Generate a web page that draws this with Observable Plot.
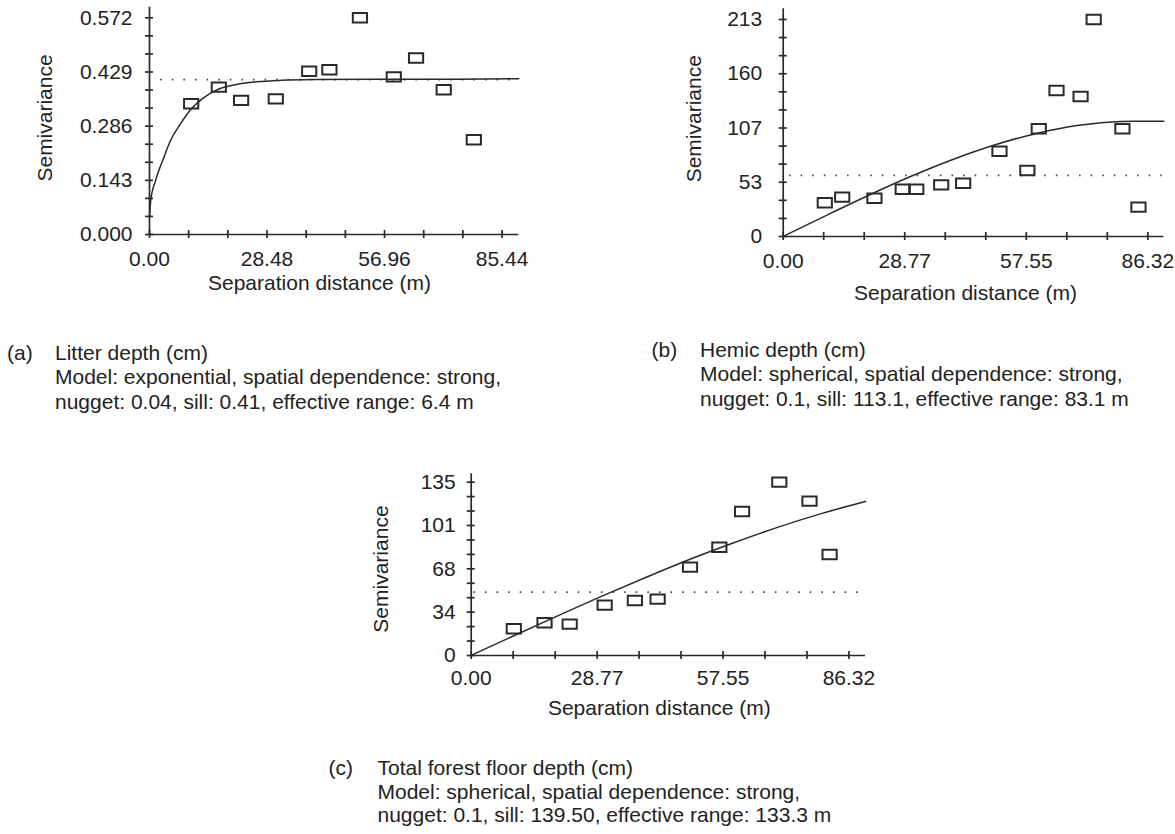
<!DOCTYPE html>
<html><head><meta charset="utf-8">
<script src="https://cdn.jsdelivr.net/npm/d3@7"></script>
<script src="https://cdn.jsdelivr.net/npm/@observablehq/plot@0.6"></script>
<style>
body{margin:0;background:#fff;}
#root{position:relative;width:1175px;height:834px;overflow:hidden;font-family:"Liberation Sans",Arial,sans-serif;color:#222;background:#fff;}
.panel{position:absolute;}
.cap{position:absolute;font-size:21px;line-height:24.5px;white-space:nowrap;color:#222;}
</style></head><body><div id="root"></div>
<script>
// ---------- Panel (a): Litter depth ----------
const aLag   = [10.1, 16.8, 22.2, 30.6, 38.7, 43.6, 51.0, 59.2, 64.6, 71.3, 78.6];
const aGamma = [0.345, 0.389, 0.354, 0.358, 0.431, 0.435, 0.572, 0.416, 0.466, 0.382, 0.250];
const aModelLag   = [0, 0.3, 1.5, 3.5, 5.1, 7.5, 10, 13, 16.8, 21, 26, 32, 40, 55, 70, 89.5];
const aModelGamma = [0.045, 0.09, 0.143, 0.204, 0.248, 0.292, 0.33, 0.36, 0.384, 0.396, 0.403, 0.407, 0.409, 0.41, 0.41, 0.411];
const aSill = 0.409;
const aXTicks = [0, 28.48, 56.96, 85.44];
const aXLabels = ["0.00", "28.48", "56.96", "85.44"];
const aYTicks = [0, 0.143, 0.286, 0.429, 0.572];
const aYLabels = ["0.000", "0.143", "0.286", "0.429", "0.572"];
const aCaption = ["(a)", "Litter depth (cm)", "Model: exponential, spatial dependence: strong,", "nugget: 0.04, sill: 0.41, effective range: 6.4 m"];

// ---------- Panel (b): Hemic depth ----------
const bLag   = [9.85, 13.97, 21.6, 28.3, 31.5, 37.4, 42.6, 51.2, 57.8, 60.5, 64.7, 70.4, 73.5, 80.3, 84.1];
const bGamma = [33.1, 38.6, 37.6, 46.4, 46.4, 50.7, 52.3, 83.7, 64.8, 105.7, 143.3, 137.4, 213, 105.7, 28.8];
const bModelLag   = [0, 10, 20, 30, 40, 50, 60, 70, 80, 83.1, 90.1];
const bModelGamma = [0.1, 20.3, 40.0, 58.6, 75.4, 89.8, 101.2, 109.1, 112.9, 113.1, 113.1];
const bSill = 59.9;
const bXTicks = [0, 28.77, 57.55, 86.32];
const bXLabels = ["0.00", "28.77", "57.55", "86.32"];
const bYTicks = [0, 53.25, 106.5, 159.75, 213];
const bYLabels = ["0", "53", "107", "160", "213"];
const bCaption = ["(b)", "Hemic depth (cm)", "Model: spherical, spatial dependence: strong,", "nugget: 0.1, sill: 113.1, effective range: 83.1 m"];

// ---------- Panel (c): Total forest floor depth ----------
const cLag   = [9.74, 16.75, 22.5, 30.5, 37.4, 42.6, 50.0, 56.7, 61.9, 70.4, 77.3, 81.9];
const cGamma = [20.8, 25.5, 24.4, 39.2, 42.8, 43.9, 68.8, 84.3, 112.1, 135, 120.2, 78.7];
const cModelLag   = [0, 10, 20, 30, 40, 50, 60, 70, 80, 90.1];
const cModelGamma = [0.1, 15.8, 31.2, 46.4, 60.9, 74.9, 87.8, 99.8, 110.5, 119.9];
const cSill = 49.3;
const cXTicks = [0, 28.77, 57.55, 86.32];
const cXLabels = ["0.00", "28.77", "57.55", "86.32"];
const cYTicks = [0, 33.75, 67.5, 101.25, 135];
const cYLabels = ["0", "34", "68", "101", "135"];
const cCaption = ["(c)", "Total forest floor depth (cm)", "Model: spherical, spatial dependence: strong,", "nugget: 0.1, sill: 139.50, effective range: 133.3 m"];

const xTitle = "Separation distance (m)";
const yTitle = "Semivariance";

// ---------- helpers ----------
function thirds(major) {
  const t = [];
  for (let i = 0; i < major.length - 1; i++) {
    const a = major[i], b = major[i + 1];
    for (let k = 0; k < 3; k++) t.push(a + (b - a) * k / 3);
  }
  t.push(major[major.length - 1]);
  return t;
}
const ink = "#2a2a2a";
const box = {draw(ctx) { ctx.rect(-7.1, -4.7, 14.2, 9.4); }};

function panel(d, L) {
  const pts = d.lag.map((x, i) => ({x, y: d.gamma[i]}));
  const model = d.mLag.map((x, i) => ({x, y: d.mGamma[i]}));
  const xm = thirds(d.xTicks), ym = thirds(d.yTicks);
  const fig = Plot.plot({
    width: L.w, height: L.h,
    marginLeft: L.ml, marginRight: L.mr, marginTop: L.mt, marginBottom: L.mb,
    style: {fontFamily: '"Liberation Sans", Arial, sans-serif', fontSize: "21px", color: "#222", background: "transparent", overflow: "visible"},
    x: {domain: [0, L.xMax]},
    y: {domain: [0, L.yMax]},
    marks: [
      Plot.ruleY([d.sill], {x1: L.sillFrom, x2: L.xMax, stroke: "#444", strokeWidth: 1.8, strokeDasharray: "1.6,10"}),
      Plot.line(model, {x: "x", y: "y", stroke: ink, strokeWidth: 1.5, curve: "monotone-x"}),
      Plot.ruleX([0], {y1: 0, y2: L.yMax, stroke: ink, strokeWidth: 1.7}),
      Plot.ruleY([0], {x1: 0, x2: L.xMax, stroke: ink, strokeWidth: 1.7}),
      Plot.ruleX(xm, {x: v => v, y1: 0, y2: 0, insetTop: -4, insetBottom: -4, stroke: ink, strokeWidth: 1.7}),
      Plot.ruleY(ym, {y: v => v, x1: 0, x2: 0, insetLeft: -4, insetRight: -4, stroke: ink, strokeWidth: 1.7}),
      Plot.axisX({ticks: d.xTicks, tickSize: 0, tickPadding: L.xPad, tickFormat: v => d.xLabels[d.xTicks.indexOf(v)], label: null, fill: "#222"}),
      Plot.axisY({ticks: d.yTicks, tickSize: 0, tickPadding: L.yPad, tickFormat: v => d.yLabels[d.yTicks.indexOf(v)], label: null, fill: "#222"}),
      Plot.dot(pts, {x: "x", y: "y", symbol: box, stroke: ink, strokeWidth: 2, fill: "none"}),
      Plot.text([xTitle], {text: t => t, frameAnchor: "bottom", lineAnchor: "top", textAnchor: "middle", dx: L.xtDx, dy: L.xtDy, fill: "#222", fontSize: 21}),
      Plot.text([yTitle], {text: t => t, frameAnchor: "left", rotate: -90, lineAnchor: "middle", textAnchor: "middle", dx: L.ytDx, dy: L.ytDy, fill: "#222", fontSize: 21})
    ]
  });
  fig.classList.add("panel");
  fig.style.left = L.left + "px";
  fig.style.top = L.top + "px";
  fig.style.position = "absolute";
  return fig;
}

function caption(lines, C) {
  const root = document.getElementById("root");
  const tag = document.createElement("div");
  tag.className = "cap";
  tag.style.left = C.tagLeft + "px";
  tag.style.top = C.top + "px";
  tag.style.lineHeight = C.lh + "px";
  tag.textContent = lines[0];
  const body = document.createElement("div");
  body.className = "cap";
  body.style.left = C.textLeft + "px";
  body.style.top = C.top + "px";
  body.style.lineHeight = C.lh + "px";
  lines.slice(1).forEach(s => {
    const ln = document.createElement("div");
    ln.textContent = s;
    body.appendChild(ln);
  });
  root.appendChild(tag);
  root.appendChild(body);
}

const root = document.getElementById("root");
root.appendChild(panel(
  {lag: aLag, gamma: aGamma, mLag: aModelLag, mGamma: aModelGamma, sill: aSill, xTicks: aXTicks, xLabels: aXLabels, yTicks: aYTicks, yLabels: aYLabels},
  {left: 0, top: 0, w: 545, h: 310, ml: 149, mr: 26.7, mt: 6.7, mb: 76, xMax: 89.5, yMax: 0.6, sillFrom: 2.7,
   xPad: 16.5, yPad: 17, xtDx: -14.7, xtDy: 41, ytDx: -104, ytDy: -2.9}
));
root.appendChild(panel(
  {lag: bLag, gamma: bGamma, mLag: bModelLag, mGamma: bModelGamma, sill: bSill, xTicks: bXTicks, xLabels: bXLabels, yTicks: bYTicks, yLabels: bYLabels},
  {left: 640, top: 0, w: 535, h: 320, ml: 142.7, mr: 11.7, mt: 8.3, mb: 84, xMax: 90.1, yMax: 223.5, sillFrom: 1.5,
   xPad: 17, yPad: 21, xtDx: -8, xtDy: 49, ytDx: -88.7, ytDy: -3.9}
));
root.appendChild(panel(
  {lag: cLag, gamma: cGamma, mLag: cModelLag, mGamma: cModelGamma, sill: cSill, xTicks: cXTicks, xLabels: cXLabels, yTicks: cYTicks, yLabels: cYLabels},
  {left: 340, top: 460, w: 540, h: 270, ml: 130.7, mr: 15, mt: 13.3, mb: 75, xMax: 90.1, yMax: 141.5, sillFrom: 0.6,
   xPad: 15, yPad: 15.5, xtDx: -9, xtDy: 45, ytDx: -90.2, ytDy: 4.4}
));

caption(aCaption, {tagLeft: 7, textLeft: 55, top: 340.5, lh: 24.5});
caption(bCaption, {tagLeft: 651.5, textLeft: 700, top: 337.5, lh: 24.5});
caption(cCaption, {tagLeft: 328.5, textLeft: 377.5, top: 756, lh: 23.5});
</script>
</body></html>
